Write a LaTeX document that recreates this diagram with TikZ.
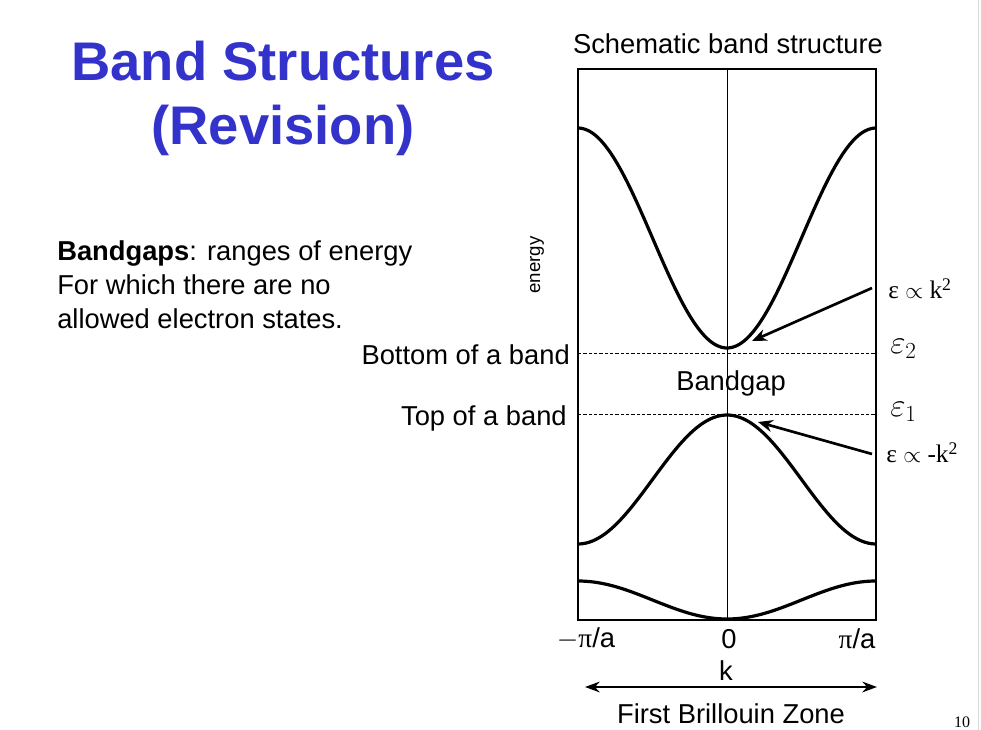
\documentclass[tikz,border=0pt]{standalone}
\usepackage{fontspec}
\setmainfont{Liberation Sans}
\newfontfamily\seriffont{Liberation Serif}
\usetikzlibrary{arrows.meta}
\definecolor{titleblue}{RGB}{51,51,204}
\tikzset{
  body/.style={font=\fontsize{20.5}{25.5}\selectfont, inner sep=0pt},
  band/.style={line width=2.4pt, smooth},
  frame/.style={line width=1.1pt},
  guide/.style={dashed, line width=0.5pt, dash pattern=on 2.5pt off 1.5pt},
  pointer/.style={line width=2pt, -{Stealth[length=11pt,width=9pt]}},
  eps/.style={font=\seriffont\fontsize{19}{22}\selectfont, inner sep=0pt, anchor=west},
  epsbig/.style={font=\fontsize{26}{30}\selectfont, inner sep=0pt, anchor=west},
}
\begin{document}
\begin{tikzpicture}[x=0.75pt,y=-0.75pt]
\useasboundingbox (0,0) rectangle (981,730);
\draw[gray!30, line width=0.6pt] (978,0) -- (978,730);
% title
\node[font=\fontsize{40.8}{48}\selectfont\bfseries, text=titleblue, align=center, inner sep=0pt] (title) at (283,98) {Band Structures\\(Revision)};
\node[body, align=left, anchor=west] (def) at (57,285) {\textbf{Bandgaps}: ranges of energy\\For which there are no\\allowed electron states.};
\node[body] (schem) at (728,44) {Schematic band structure};
% frame
\coordinate (tl) at (578,69);
\coordinate (br) at (876,620);
\draw[frame] (tl) rectangle (br);
\coordinate (ctop) at (727,69);
\coordinate (cbot) at (727,620);
\draw[line width=0.6pt] (ctop) -- (cbot);
% guides
\coordinate (g2l) at (578,353); \coordinate (g2r) at (876,353);
\coordinate (g1l) at (578,414); \coordinate (g1r) at (876,414);
\draw[guide] (g2l) -- (g2r);
\draw[guide] (g1l) -- (g1r);
% bands
\draw[band, domain=-1:1, samples=80] plot ({727+149*\x}, {238+110*cos(180*\x)});
\draw[band, domain=-1:1, samples=80] plot ({727+149*\x}, {479.5-64.5*cos(180*\x)});
\draw[band, domain=-1:1, samples=80] plot ({727+149*\x}, {600+19*cos(180*\x)});
% labels
\node[font=\fontsize{14}{16}\selectfont, rotate=90, inner sep=0pt] (energy) at (537,265) {energy};
\node[body, anchor=east] (bottom) at (570,355) {Bottom of a band};
\node[body, anchor=east] (topb) at (567,418) {Top of a band};
\node[body] (gap) at (731,383) {Bandgap};
\node[epsbig] (e2lab) at (890,349) {$\varepsilon_2$};
\node[epsbig] (e1lab) at (890,412) {$\varepsilon_1$};
\node[eps] (kpos) at (888,289) {ε $\propto$ k\textsuperscript{2}};
\node[eps] (kneg) at (886,453) {ε $\propto$ -k\textsuperscript{2}};
\coordinate (tipA) at (752,341);
\coordinate (tipB) at (758,422);
\draw[pointer] (kpos.west) ++(-16,-1) coordinate (startA) (startA) -- (tipA);
\draw[pointer] (kneg.west) ++(-14,1) coordinate (startB) (startB) -- (tipB);
% axis
\node[body] (mpi) at (586,639) {$-${\seriffont π}/a};
\node[body] (zero) at (729,639) {0};
\node[body] (ppi) at (857,639) {{\seriffont π}/a};
\node[body] (k) at (726,671) {k};
\coordinate (zl) at (585,687);
\coordinate (zr) at (877,687);
\draw[line width=2pt, {Stealth[length=11pt,width=8pt]}-{Stealth[length=11pt,width=8pt]}] (zl) -- (zr);
\node[body] (fbz) at (731,714) {First Brillouin Zone};
\node[font=\seriffont\fontsize{12}{14}\selectfont, inner sep=0pt] (pg) at (962,722) {10};
\end{tikzpicture}
\end{document}
